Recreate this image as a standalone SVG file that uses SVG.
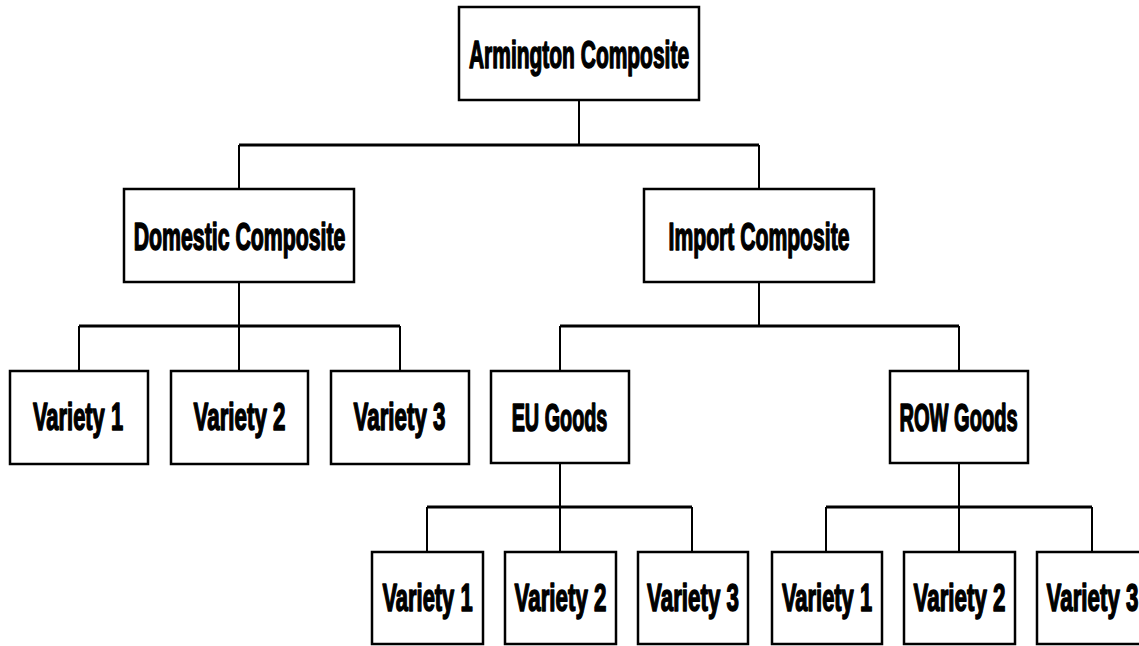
<svg xmlns="http://www.w3.org/2000/svg" width="1139" height="646" viewBox="0 0 1139 646">
<style>
.box{fill:#fff;stroke:#000;stroke-width:2.5}
.lbl{font-family:"Liberation Sans",Arial,sans-serif;font-weight:bold;font-size:38px;fill:#000;stroke:#000;stroke-width:1.3;stroke-linejoin:round;vector-effect:non-scaling-stroke;text-anchor:middle}
.v{stroke:#000;stroke-width:2;fill:none}
.h{stroke:#000;stroke-width:3;fill:none}
</style>
<rect width="1139" height="646" fill="#fff"/>
<g id="connectors">
<path class="v" d="M579,100V145M239,145V189M759,145V189"/>
<path class="h" d="M239,145H759"/>
<path class="v" d="M239,282V326M79,326V371M239,326V371M400,326V371"/>
<path class="h" d="M79,326H400"/>
<path class="v" d="M759,282V326M560,326V371M959,326V371"/>
<path class="h" d="M560,326H959"/>
<path class="v" d="M560,463V507M427,507V552M560,507V552M692,507V552"/>
<path class="h" d="M427,507H692"/>
<path class="v" d="M959,463V507M826,507V552M959,507V552M1092,507V552"/>
<path class="h" d="M826,507H1092"/>
</g>
<g id="armington"><rect class="box" x="459" y="7" width="240" height="93"/><text class="lbl" transform="translate(579,68) scale(0.56,1)" textLength="393" lengthAdjust="spacingAndGlyphs">Armington Composite</text></g>
<g id="domestic"><rect class="box" x="124" y="189" width="230" height="93"/><text class="lbl" transform="translate(239.5,250) scale(0.56,1)" textLength="378" lengthAdjust="spacingAndGlyphs">Domestic Composite</text></g>
<g id="import"><rect class="box" x="644" y="189" width="230" height="93"/><text class="lbl" transform="translate(759,250) scale(0.56,1)" textLength="323" lengthAdjust="spacingAndGlyphs">Import Composite</text></g>
<g id="dom-v1"><rect class="box" x="10" y="371" width="138" height="93"/><text class="lbl" transform="translate(78,430) scale(0.56,1)" textLength="161" lengthAdjust="spacingAndGlyphs">Variety 1</text></g>
<g id="dom-v2"><rect class="box" x="171" y="371" width="137" height="93"/><text class="lbl" transform="translate(239.5,430) scale(0.56,1)" textLength="164" lengthAdjust="spacingAndGlyphs">Variety 2</text></g>
<g id="dom-v3"><rect class="box" x="331" y="371" width="138" height="93"/><text class="lbl" transform="translate(399.5,430) scale(0.56,1)" textLength="164" lengthAdjust="spacingAndGlyphs">Variety 3</text></g>
<g id="eu"><rect class="box" x="491" y="371" width="138" height="92"/><text class="lbl" transform="translate(559.5,431) scale(0.56,1)" textLength="171" lengthAdjust="spacingAndGlyphs">EU Goods</text></g>
<g id="row"><rect class="box" x="890" y="371" width="138" height="92"/><text class="lbl" transform="translate(958.5,431) scale(0.56,1)" textLength="211" lengthAdjust="spacingAndGlyphs">ROW Goods</text></g>
<g id="eu-v1"><rect class="box" x="372" y="552" width="111" height="92"/><text class="lbl" transform="translate(427.5,611) scale(0.56,1)" textLength="161" lengthAdjust="spacingAndGlyphs">Variety 1</text></g>
<g id="eu-v2"><rect class="box" x="505" y="552" width="111" height="92"/><text class="lbl" transform="translate(560.5,611) scale(0.56,1)" textLength="164" lengthAdjust="spacingAndGlyphs">Variety 2</text></g>
<g id="eu-v3"><rect class="box" x="638" y="552" width="110" height="92"/><text class="lbl" transform="translate(693,611) scale(0.56,1)" textLength="164" lengthAdjust="spacingAndGlyphs">Variety 3</text></g>
<g id="row-v1"><rect class="box" x="772" y="552" width="110" height="92"/><text class="lbl" transform="translate(827,611) scale(0.56,1)" textLength="161" lengthAdjust="spacingAndGlyphs">Variety 1</text></g>
<g id="row-v2"><rect class="box" x="904" y="552" width="111" height="92"/><text class="lbl" transform="translate(959.5,611) scale(0.56,1)" textLength="164" lengthAdjust="spacingAndGlyphs">Variety 2</text></g>
<g id="row-v3"><rect class="box" x="1037" y="552" width="111" height="92"/><text class="lbl" transform="translate(1092.5,611) scale(0.56,1)" textLength="164" lengthAdjust="spacingAndGlyphs">Variety 3</text></g>
</svg>
